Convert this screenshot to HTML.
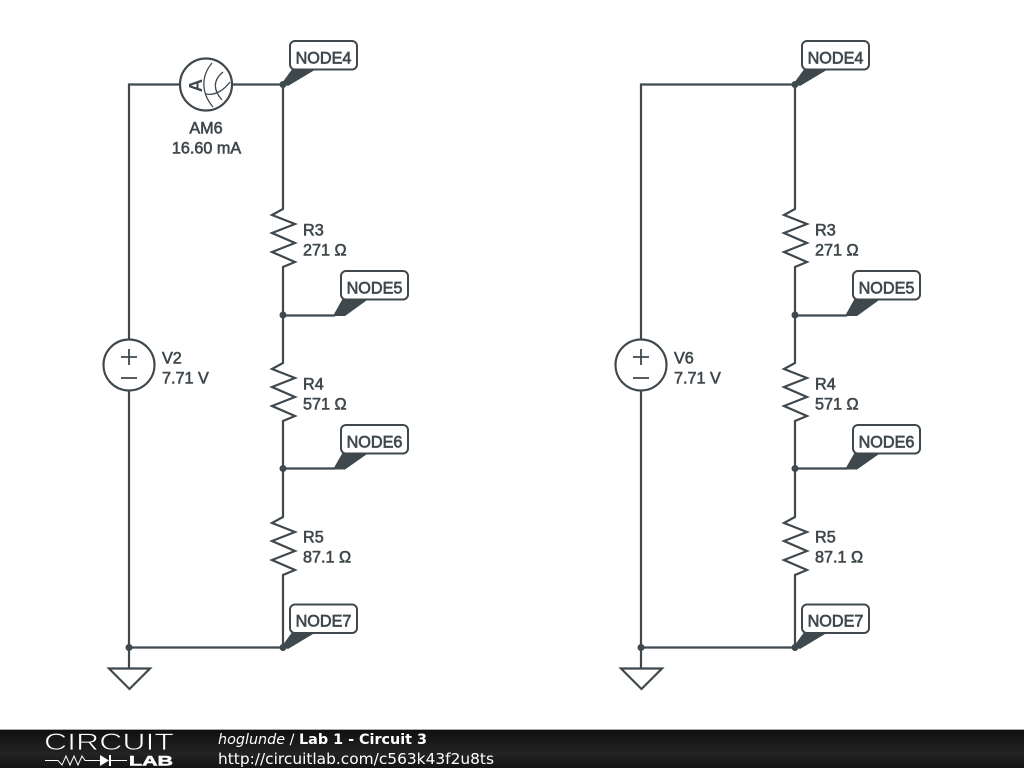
<!DOCTYPE html>
<html><head><meta charset="utf-8"><style>
html,body{margin:0;padding:0;background:#fff;width:1024px;height:768px;overflow:hidden}
svg{display:block}
.w{fill:none;stroke:#3f484d;stroke-width:2.2;stroke-linejoin:miter}
.t{stroke:#3f484d;stroke-width:1.3;fill:none}
.d{fill:#3f484d}
.l{font:16.2px "Liberation Sans",sans-serif;fill:#3f484d;stroke:#3f484d;stroke-width:.6}
.m{text-anchor:middle}
.n{font:16.2px "Liberation Sans",sans-serif;fill:#3f484d;stroke:#3f484d;stroke-width:.65;text-anchor:middle}
.b{fill:#fff;stroke:#3f484d;stroke-width:2}
.f{font:14.35px "DejaVu Sans",sans-serif;fill:#fff}
</style></head><body>
<svg width="1024" height="768" viewBox="0 0 1024 768" xmlns="http://www.w3.org/2000/svg">
<rect width="1024" height="768" fill="#fff"/>

<!-- Left circuit -->
<path class="w" d="M129 339V84.500H180M232 84.500H283V209L272 215 295 224 272 233 295 243 272 252 295 262 283 267V363L272 369 295 378 272 387 295 397 272 406 295 416 283 421V517L272 523 295 532 272 541 295 551 272 560 295 570 283 575V647.500H129V391M129 647.500V668"/>
<circle class="w" cx="206" cy="84.500" r="26"/>
<text x="0" y="0" transform="translate(202,85.500) rotate(-90)" text-anchor="middle" font-family="Liberation Sans,sans-serif" font-weight="bold" font-size="18.500" fill="#3f484d">A</text>
<path class="t" d="M212 63C201 76 201 93 213 107M223 72C213 80 213 90 222 100M206 94C215 96 224 90 230 82"/>
<circle class="w" cx="129" cy="365" r="25.500"/>
<path class="t" style="stroke-width:1.8" d="M121 357H137M129 349V365M121 378H137"/>
<path class="w" d="M109 668.500H150L129.500 689Z"/>
<g class="d"><circle cx="283" cy="84.500" r="3.500"/><circle cx="283" cy="315" r="3.500"/><circle cx="283" cy="468.500" r="3.500"/><circle cx="283" cy="647.500" r="3.500"/><circle cx="129" cy="647.500" r="3.500"/>
<path d="M282 83 293 68H318L288 86Z"/><path d="M282 646 293 631H318L288 649Z"/><path d="M333 316 343 298H370L345 316Z"/><path d="M333 469.500 343 452H370L345 469.500Z"/></g>
<path class="w" d="M283 315.500H335M283 468.500H335"/>
<rect class="b" x="290" y="41" width="67" height="28.500" rx="5"/><text class="n" x="323.500" y="63.500">NODE4</text>
<rect class="b" x="290" y="604.500" width="67" height="28.500" rx="5"/><text class="n" x="323.500" y="626.500">NODE7</text>
<rect class="b" x="341" y="271" width="67" height="28.500" rx="5"/><text class="n" x="374.500" y="293.500">NODE5</text>
<rect class="b" x="341" y="425" width="67" height="28.500" rx="5"/><text class="n" x="374.500" y="447.500">NODE6</text>
<text class="l m" x="206" y="133.500">AM6</text><text class="l m" x="206.500" y="153.500">16.60 mA</text>
<text class="l" x="162" y="363.500">V2</text><text class="l" x="162" y="383.500">7.71 V</text>
<text class="l" x="303" y="235.500">R3</text><text class="l" x="303" y="255.500">271 Ω</text>
<text class="l" x="303" y="389.500">R4</text><text class="l" x="303" y="409.500">571 Ω</text>
<text class="l" x="303" y="542.500">R5</text><text class="l" x="303" y="562.500">87.1 Ω</text>

<!-- Right circuit -->
<path class="w" d="M641 339V84.500H795V209L784 215 807 224 784 233 807 243 784 252 807 262 795 267V363L784 369 807 378 784 387 807 397 784 406 807 416 795 421V517L784 523 807 532 784 541 807 551 784 560 807 570 795 575V647.500H641V391M641 647.500V668"/>
<circle class="w" cx="641" cy="365" r="25.500"/>
<path class="t" style="stroke-width:1.8" d="M633 357H649M641 349V365M633 378H649"/>
<path class="w" d="M621 668.500H662L641.500 689Z"/>
<g class="d"><circle cx="795" cy="84.500" r="3.500"/><circle cx="795" cy="315" r="3.500"/><circle cx="795" cy="468.500" r="3.500"/><circle cx="795" cy="647.500" r="3.500"/><circle cx="641" cy="647.500" r="3.500"/>
<path d="M794 83 805 68H830L800 86Z"/><path d="M794 646 805 631H830L800 649Z"/><path d="M845 316 855 298H882L857 316Z"/><path d="M845 469.500 855 452H882L857 469.500Z"/></g>
<path class="w" d="M795 315.500H847M795 468.500H847"/>
<rect class="b" x="802" y="41" width="67" height="28.500" rx="5"/><text class="n" x="835.500" y="63.500">NODE4</text>
<rect class="b" x="802" y="604.500" width="67" height="28.500" rx="5"/><text class="n" x="835.500" y="626.500">NODE7</text>
<rect class="b" x="853" y="271" width="67" height="28.500" rx="5"/><text class="n" x="886.500" y="293.500">NODE5</text>
<rect class="b" x="853" y="425" width="67" height="28.500" rx="5"/><text class="n" x="886.500" y="447.500">NODE6</text>
<text class="l" x="674" y="363.500">V6</text><text class="l" x="674" y="383.500">7.71 V</text>
<text class="l" x="815" y="235.500">R3</text><text class="l" x="815" y="255.500">271 Ω</text>
<text class="l" x="815" y="389.500">R4</text><text class="l" x="815" y="409.500">571 Ω</text>
<text class="l" x="815" y="542.500">R5</text><text class="l" x="815" y="562.500">87.1 Ω</text>

<!-- Footer -->
<defs><linearGradient id="g" x1="0" y1="0" x2="0" y2="1"><stop offset="0" stop-color="#0f0f0f"/><stop offset=".65" stop-color="#232323"/><stop offset="1" stop-color="#141414"/></linearGradient></defs>
<rect y="729" width="1024" height="39" fill="url(#g)"/>
<rect y="729" width="1024" height="1" fill="#a8a8a8"/>
<text x="44" y="750" font-family="Liberation Sans,sans-serif" font-size="24" fill="#fff" stroke="#1a1a1a" stroke-width=".7" textLength="130" lengthAdjust="spacingAndGlyphs">CIRCUIT</text>
<path d="M45 760.500H58L62 765 66 756 70 765 74 756 78 765 82 756 85 760.500H100M110 760.500H127" fill="none" stroke="#fff" stroke-width="1"/>
<path d="M100 755V766L109 760.500Z" fill="#fff"/><path d="M110 755V766" stroke="#fff" stroke-width="2"/>
<text x="129" y="765.500" font-family="Liberation Sans,sans-serif" font-size="14" font-weight="bold" fill="#fff" stroke="#fff" stroke-width=".5" textLength="44" lengthAdjust="spacingAndGlyphs">LAB</text>
<text class="f" x="218" y="744"><tspan font-style="italic">hoglunde</tspan> / <tspan font-weight="bold">Lab 1 - Circuit 3</tspan></text>
<text class="f" x="218" y="764" style="font-size:15.400px">http://circuitlab.com/c563k43f2u8ts</text>
</svg>
</body></html>
